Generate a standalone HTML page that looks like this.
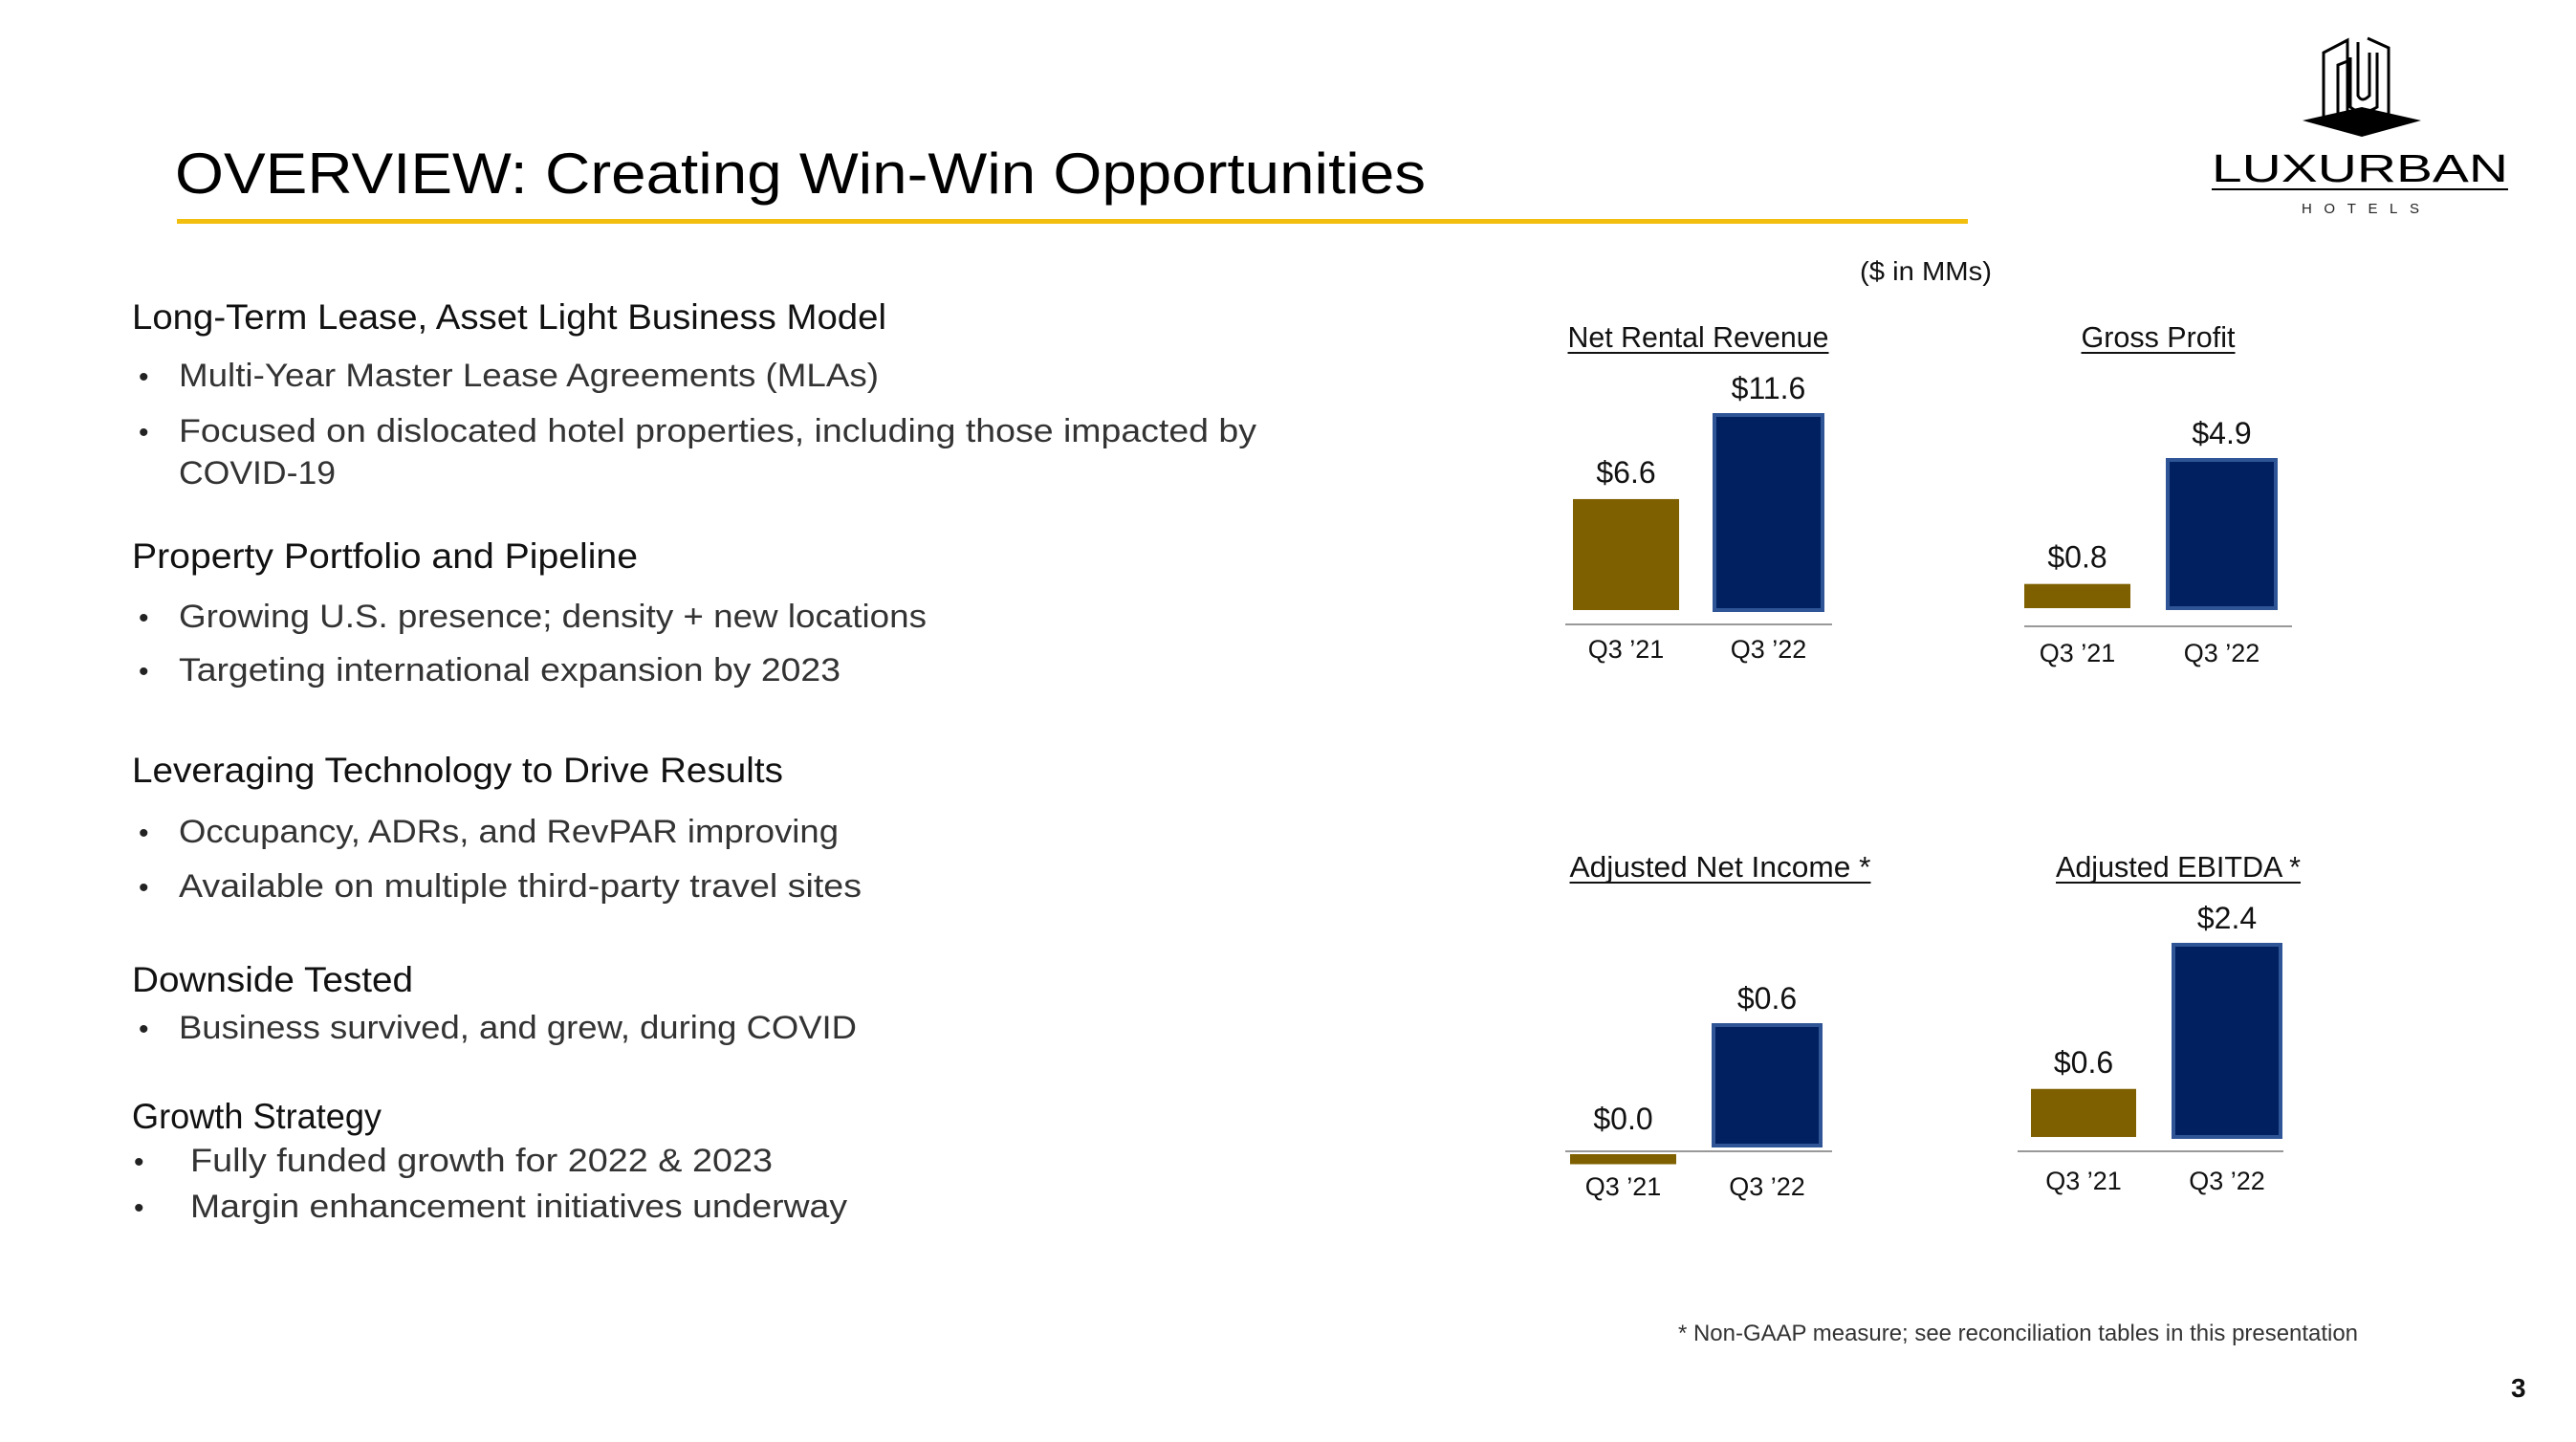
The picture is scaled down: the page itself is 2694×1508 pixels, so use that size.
<!DOCTYPE html>
<html><head><meta charset="utf-8"><style>
html,body{margin:0;padding:0;background:#fff;}
svg{display:block;font-family:"Liberation Sans",sans-serif;}
</style></head><body>
<svg id="page" width="2694" height="1508" viewBox="0 0 2694 1508" xmlns="http://www.w3.org/2000/svg">
<rect width="2694" height="1508" fill="#fff"/>
<text x="183" y="202" font-size="60" fill="#000" textLength="1308" lengthAdjust="spacingAndGlyphs">OVERVIEW: Creating Win-Win Opportunities</text>
<rect x="185" y="229" width="1873" height="5" fill="#f2bf0f"/>

<g fill="none" stroke="#000" stroke-width="3">
  <polygon points="2408,126 2470,112 2532,126 2470,143" fill="#000" stroke="none"/>
  <path d="M2430,124 V55 L2455,42 V120"/>
  <path d="M2445,130 V68 L2455,64"/>
  <path d="M2466,44 V100 Q2470,108 2478,100 V55"/>
  <path d="M2476,40 L2498,50 V124 L2480,132 H2447"/>
  <path d="M2458,60 V112 Q2470,122 2486,112 V55"/>
  <text x="2313" y="190" font-size="41" fill="#000" stroke="none" textLength="310" lengthAdjust="spacingAndGlyphs">LUXURBAN</text>
  <rect x="2313" y="197" width="310" height="2" fill="#000" stroke="none"/>
  <text x="2407" y="223" font-size="15" fill="#222" stroke="none" textLength="123" lengthAdjust="spacing">HOTELS</text>
</g>

<g fill="#222">
  <text x="138" y="344" font-size="37" fill="#111" textLength="789" lengthAdjust="spacingAndGlyphs">Long-Term Lease, Asset Light Business Model</text>
  <text x="145" y="404" font-size="30">•</text>
  <text x="187" y="404" font-size="34" fill="#333" textLength="732" lengthAdjust="spacingAndGlyphs">Multi-Year Master Lease Agreements (MLAs)</text>
  <text x="145" y="462" font-size="30">•</text>
  <text x="187" y="462" font-size="34" fill="#333" textLength="1127" lengthAdjust="spacingAndGlyphs">Focused on dislocated hotel properties, including those impacted by</text>
  <text x="187" y="506" font-size="34" fill="#333" textLength="164" lengthAdjust="spacingAndGlyphs">COVID-19</text>

  <text x="138" y="594" font-size="37" fill="#111" textLength="529" lengthAdjust="spacingAndGlyphs">Property Portfolio and Pipeline</text>
  <text x="145" y="656" font-size="30">•</text>
  <text x="187" y="656" font-size="34" fill="#333" textLength="782" lengthAdjust="spacingAndGlyphs">Growing U.S. presence; density + new locations</text>
  <text x="145" y="712" font-size="30">•</text>
  <text x="187" y="712" font-size="34" fill="#333" textLength="692" lengthAdjust="spacingAndGlyphs">Targeting international expansion by 2023</text>

  <text x="138" y="818" font-size="37" fill="#111" textLength="681" lengthAdjust="spacingAndGlyphs">Leveraging Technology to Drive Results</text>
  <text x="145" y="881" font-size="30">•</text>
  <text x="187" y="881" font-size="34" fill="#333" textLength="690" lengthAdjust="spacingAndGlyphs">Occupancy, ADRs, and RevPAR improving</text>
  <text x="145" y="938" font-size="30">•</text>
  <text x="187" y="938" font-size="34" fill="#333" textLength="714" lengthAdjust="spacingAndGlyphs">Available on multiple third-party travel sites</text>

  <text x="138" y="1037" font-size="37" fill="#111" textLength="294" lengthAdjust="spacingAndGlyphs">Downside Tested</text>
  <text x="145" y="1086" font-size="30">•</text>
  <text x="187" y="1086" font-size="34" fill="#333" textLength="709" lengthAdjust="spacingAndGlyphs">Business survived, and grew, during COVID</text>

  <text x="138" y="1180" font-size="37" fill="#111" textLength="261" lengthAdjust="spacingAndGlyphs">Growth Strategy</text>
  <text x="140" y="1225" font-size="30">•</text>
  <text x="199" y="1225" font-size="34" fill="#333" textLength="609" lengthAdjust="spacingAndGlyphs">Fully funded growth for 2022 &amp; 2023</text>
  <text x="140" y="1273" font-size="30">•</text>
  <text x="199" y="1273" font-size="34" fill="#333" textLength="687" lengthAdjust="spacingAndGlyphs">Margin enhancement initiatives underway</text>
</g>

<text x="1945" y="293" font-size="28" fill="#111" textLength="138" lengthAdjust="spacingAndGlyphs">($ in MMs)</text>
<g id="charts"></g>
<text x="1755" y="1402" font-size="24" fill="#333" textLength="711" lengthAdjust="spacingAndGlyphs">*  Non-GAAP measure; see reconciliation tables in this presentation</text>
<text x="2626" y="1461" font-size="28" font-weight="bold" fill="#111">3</text>
</svg>
<script>
const categories = ["Q3 \u201921", "Q3 \u201922"];
const chartTitles = ["Net Rental Revenue", "Gross Profit", "Adjusted Net Income *", "Adjusted EBITDA *"];
const netRentalRevenue = [6.6, 11.6];
const grossProfit = [0.8, 4.9];
const adjNetIncome = [-0.05, 0.6];
const adjEbitda = [0.6, 2.4];
const valueLabels = [["$6.6", "$11.6"], ["$0.8", "$4.9"], ["$0.0", "$0.6"], ["$0.6", "$2.4"]];
const seriesList = [netRentalRevenue, grossProfit, adjNetIncome, adjEbitda];

// layout (pixels) per panel
const panels = [
  {x0:1637, x1:1916, base:638, axisY:653, plotH:204, titleX:1776, titleY:363, titleW:273, labelY:688, bars:[[1645,1756],[1793,1906]]},
  {x0:2117, x1:2397, base:636, axisY:655, plotH:155, titleX:2257, titleY:363, titleW:161, labelY:692, bars:[[2117,2228],[2267,2380]]},
  {x0:1637, x1:1916, base:1198, axisY:1204, plotH:126, titleX:1799, titleY:917, titleW:315, labelY:1250, bars:[[1642,1753],[1792,1904]]},
  {x0:2110, x1:2388, base:1189, axisY:1204, plotH:201, titleX:2278, titleY:917, titleW:256, labelY:1244, bars:[[2124,2234],[2273,2385]]}
];
const NS = "http://www.w3.org/2000/svg";
const root = document.getElementById('charts');
function mk(tag, attrs, parent){const e=document.createElementNS(NS,tag);for(const k in attrs)e.setAttribute(k,attrs[k]);parent.appendChild(e);return e;}
seriesList.forEach((vals, ci) => {
  const p = panels[ci];
  const g = mk('g', {}, root);
  
  
  const maxV = Math.max(...vals);
  const yScale = v => p.base - v / maxV * p.plotH;
  const t = mk('text', {x:p.titleX, y:p.titleY, 'font-size':31, fill:'#111', 'text-anchor':'middle', textLength:p.titleW, lengthAdjust:'spacingAndGlyphs'}, g);
  t.textContent = chartTitles[ci];
  
  
  const ul = mk('rect', {x:p.titleX - p.titleW/2, y:p.titleY + 5, width:p.titleW, height:2, fill:'#111'}, g);
  
  
  vals.forEach((v, i) => {
    const [bx0, bx1] = p.bars[i];
    const yTop = Math.min(yScale(v), yScale(0));
    const h = Math.abs(yScale(v) - yScale(0));
    let yy = yTop;
    if (v < 0) { yy = p.axisY + 3; }
    const r = mk('rect', {x:bx0, y:yy, width:bx1 - bx0, height:Math.max(h, 1),
      fill: i === 0 ? '#7f6000' : '#002060', stroke: i === 0 ? 'none' : '#2f5597', 'stroke-width': i === 0 ? 0 : 4}, g);
    
    
    const labTop = v < 0 ? p.axisY - 6 : yTop;
    const vl = mk('text', {x:(bx0 + bx1)/2, y:labTop - 17, 'font-size':32, fill:'#111', 'text-anchor':'middle'}, g);
    vl.textContent = valueLabels[ci][i];
    
    
    const cl = mk('text', {x:(bx0 + bx1)/2, y:p.labelY, 'font-size':27, fill:'#111', 'text-anchor':'middle'}, g);
    cl.textContent = categories[i];
    
    
  });
  const ax = mk('line', {x1:p.x0, x2:p.x1, y1:p.axisY, y2:p.axisY, stroke:'#999', 'stroke-width':2}, g);
  
  
});
</script>
</body></html>
